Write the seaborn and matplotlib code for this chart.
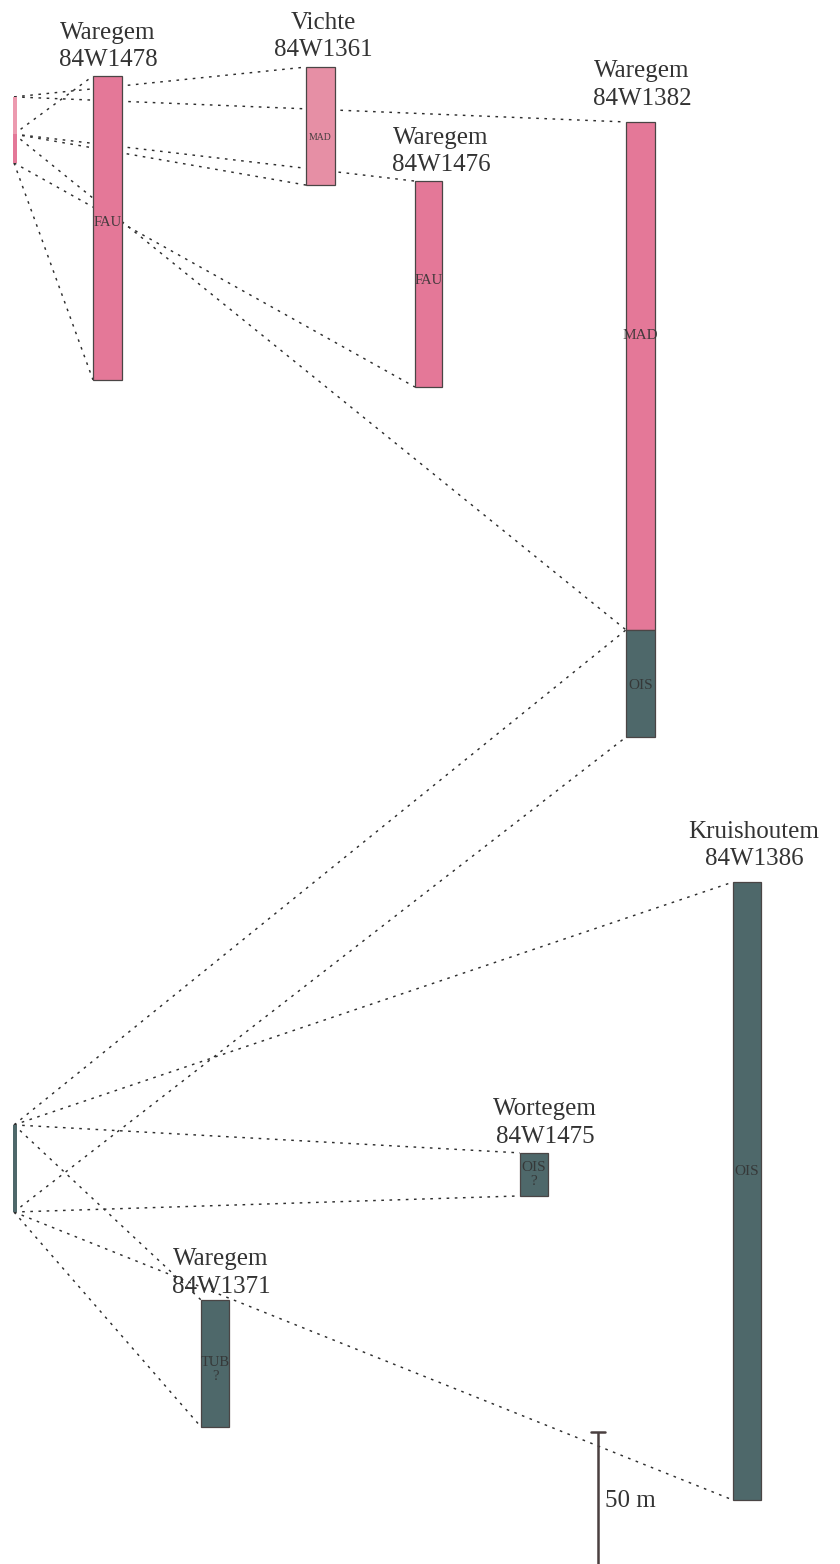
import matplotlib
matplotlib.use("Agg")
import matplotlib.pyplot as plt
import seaborn as sns
import pandas as pd

# Boreholes (name, id) and their horizontal slot in the panel
borehole_ids = ["84W1478", "84W1361", "84W1476", "84W1382", "84W1386", "84W1475", "84W1371"]
borehole_names = ["Waregem", "Vichte", "Waregem", "Waregem", "Kruishoutem", "Wortegem", "Waregem"]

# Lithostratigraphic intervals per borehole, depths in metres
seg_borehole = ["84W1478", "84W1361", "84W1476", "84W1382", "84W1382", "84W1386", "84W1475", "84W1371"]
seg_unit = ["FAU", "MAD", "FAU", "MAD", "OIS", "OIS", "OIS\n?", "TUB\n?"]
seg_top = [28.8, 25.4, 68.6, 46.2, 238.6, 334.1, 436.7, 492.4]
seg_base = [143.9, 70.1, 146.6, 238.6, 279.2, 568.2, 453.0, 540.5]
seg_ref = ["FAU", "MAD", "FAU", "MAD", "OIS", "OIS", "OIS", "OIS"]

# Reference sequence the intervals are correlated with
ref_unit = ["MAD", "FAU", "OIS"]
ref_top = [36.7, 50.8, 426.1]
ref_base = [50.8, 61.7, 459.1]

scale_length = 50  # m

# ---- layout / style ----
col_x = {"84W1478": 107.5, "84W1361": 320.5, "84W1476": 428.5, "84W1382": 640.5,
         "84W1386": 747.0, "84W1475": 534.0, "84W1371": 215.0}
col_w = {"84W1478": 29, "84W1361": 29, "84W1476": 27, "84W1382": 29,
         "84W1386": 28, "84W1475": 28, "84W1371": 28}
title_x = {"84W1478": 108, "84W1361": 323, "84W1476": 441, "84W1382": 642,
           "84W1386": 754, "84W1475": 545, "84W1371": 221}
title_gap = {"84W1478": 10, "84W1361": 11, "84W1476": 10, "84W1382": 17,
             "84W1386": 17, "84W1475": 10, "84W1371": 7}
seg_color = ["#E47898", "#E68FA5", "#E47898", "#E47898", "#4E686A", "#4E686A", "#4E686A", "#4E686A"]
seg_fs = [10.5, 7, 10.5, 11, 11, 11, 11, 10.5]
seg_label_y = [84.1, 51.9, 106.1, 126.9, 259.5, 443.9, 444.7, 518.9]
ref_color = {"MAD": "#EC9AAF", "FAU": "#E47898", "OIS": "#4E686A"}
ref_x, ref_w, link_x0 = 15.0, 4.0, 14.0

PX_PER_M = 2.64
W, H = 840, 1564

sns.set_theme(style="white")
plt.rcParams["font.family"] = ["Liberation Serif", "DejaVu Serif"]

segs = pd.DataFrame({"borehole": seg_borehole, "unit": seg_unit, "top": seg_top,
                     "base": seg_base, "ref": seg_ref, "color": seg_color,
                     "fs": seg_fs, "label_y": seg_label_y})
segs["x"] = segs["borehole"].map(col_x)
segs["w"] = segs["borehole"].map(col_w)
refs = pd.DataFrame({"unit": ref_unit, "top": ref_top, "base": ref_base}).set_index("unit")

fig = plt.figure(figsize=(W / 100, H / 100), dpi=100)
ax = fig.add_axes([0, 0, 1, 1])
ax.set_xlim(0, W)
ax.set_ylim(H / PX_PER_M, 0)
ax.axis("off")

# correlation links: reference top -> interval top, reference base -> interval base
for _, s in segs.iterrows():
    r = refs.loc[s["ref"]]
    xe = s["x"] - s["w"] / 2
    for y0, y1 in ((r["top"], s["top"]), (r["base"], s["base"])):
        ax.plot([link_x0, xe], [y0, y1], color="#2e2e2e", lw=1.05,
                linestyle=(0, (1.8, 3.8)), zorder=1)

# reference bars
for u, r in refs.iterrows():
    ax.bar(ref_x, r["base"] - r["top"], bottom=r["top"], width=ref_w,
           color=ref_color[u], edgecolor="none", zorder=2)

# borehole intervals
for _, s in segs.iterrows():
    ax.bar(s["x"], s["base"] - s["top"], bottom=s["top"], width=s["w"],
           color=s["color"], edgecolor="#4a4545", linewidth=0.9, zorder=2)
    ax.text(s["x"], s["label_y"], s["unit"], ha="center", va="center",
            fontsize=s["fs"], color="#333333", alpha=0.9, linespacing=1.1, zorder=3)

# borehole titles above each column
tops = segs.groupby("borehole")["top"].min()
for bid, name in zip(borehole_ids, borehole_names):
    yb = tops[bid] - title_gap[bid] / PX_PER_M
    ax.text(title_x[bid], yb, bid, ha="center", va="baseline", fontsize=18, color="#333333")
    ax.text(title_x[bid], yb - 27.5 / PX_PER_M, name, ha="center", va="baseline",
            fontsize=18, color="#333333")

# scale bar
sb_x = 598
sb_top = H / PX_PER_M - scale_length
ax.plot([sb_x, sb_x], [sb_top, sb_top + scale_length], color="#4a4040", lw=1.8,
        solid_capstyle="butt", zorder=3)
ax.plot([sb_x - 7, sb_x + 7], [sb_top, sb_top], color="#4a4040", lw=1.8, zorder=3)
ax.text(sb_x + 7, sb_top + 28.4, f"{scale_length} m", ha="left", va="baseline",
        fontsize=18, color="#333333")

fig.savefig("out.png", dpi=100)
